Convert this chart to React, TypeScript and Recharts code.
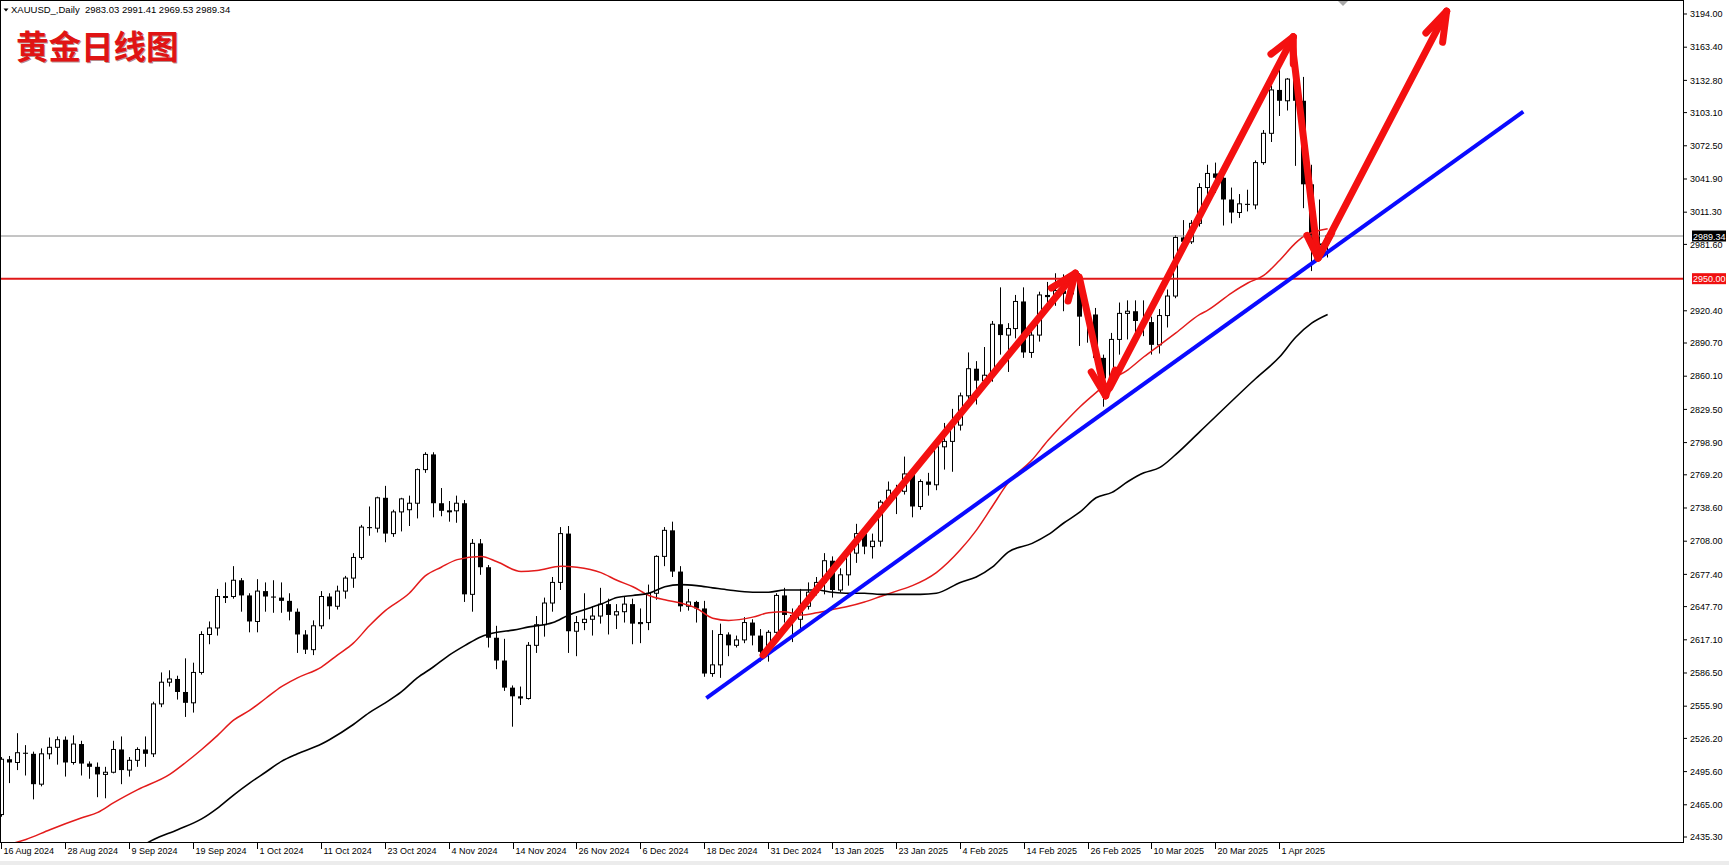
import { Bar, ComposedChart, Line, ReferenceLine, XAxis, YAxis } from "recharts"

const FONT = '"Liberation Sans", Arial, sans-serif'

// XAUUSD daily candles, bar 0 = 16 Aug 2024 ... bar 166 = 9 Apr 2025
const opens = [
  2456, 2507, 2504, 2513, 2512, 2484, 2512, 2518, 2525, 2504,
  2521, 2503, 2500, 2493, 2495, 2516, 2497, 2506, 2516, 2512,
  2558, 2578, 2581, 2569, 2559, 2587, 2622, 2628, 2657, 2657,
  2672, 2658, 2634, 2662, 2657, 2656, 2653, 2643, 2622, 2608,
  2630, 2657, 2648, 2662, 2674, 2693, 2721, 2720, 2748, 2715,
  2735, 2737, 2743, 2774, 2788, 2743, 2736, 2736, 2743, 2659,
  2706, 2684, 2619, 2598, 2573, 2565, 2563, 2612, 2631, 2651,
  2670, 2715, 2625, 2633, 2636, 2639, 2650, 2640, 2643, 2650,
  2632, 2633, 2660, 2694, 2718, 2680, 2648, 2652, 2646, 2586,
  2594, 2622, 2612, 2617, 2633, 2621, 2606, 2624, 2658, 2640,
  2636, 2648, 2661, 2670, 2690, 2663, 2677, 2697, 2715, 2703,
  2708, 2744, 2755, 2754, 2770, 2740, 2763, 2760, 2795, 2800,
  2815, 2842, 2867, 2856, 2861, 2908, 2898, 2904, 2929, 2882,
  2898, 2935, 2933, 2939, 2936, 2952, 2915, 2917, 2877, 2858,
  2894, 2918, 2920, 2911, 2910, 2889, 2916, 2934, 2988, 2984,
  3001, 3034, 3047, 3043, 3023, 3011, 3019, 3018, 3057, 3084,
  3124, 3114, 3134, 3114, 3037, 2982, 2983.03,
]
const highs = [
  2509, 2510, 2531, 2520, 2514, 2517, 2527, 2528, 2528, 2529,
  2524, 2505, 2504, 2500, 2524, 2528, 2509, 2518, 2528, 2560,
  2587, 2589, 2584, 2600, 2596, 2625, 2634, 2664, 2670, 2685,
  2674, 2660, 2673, 2670, 2672, 2670, 2660, 2646, 2626, 2635,
  2662, 2660, 2667, 2676, 2697, 2723, 2740, 2749, 2759, 2737,
  2748, 2750, 2775, 2790, 2790, 2757, 2745, 2750, 2746, 2710,
  2710, 2686, 2630, 2618, 2575, 2574, 2615, 2639, 2656, 2675,
  2721, 2722, 2639, 2660, 2648, 2665, 2655, 2650, 2657, 2655,
  2646, 2668, 2695, 2721, 2726, 2685, 2664, 2653, 2653, 2626,
  2632, 2624, 2621, 2638, 2636, 2627, 2626, 2660, 2665, 2646,
  2664, 2670, 2675, 2697, 2694, 2683, 2700, 2724, 2719, 2715,
  2746, 2763, 2760, 2786, 2772, 2765, 2771, 2800, 2817, 2830,
  2845, 2882, 2874, 2887, 2911, 2942, 2909, 2935, 2942, 2904,
  2938, 2947, 2955, 2954, 2956, 2955, 2930, 2923, 2880, 2900,
  2928, 2930, 2930, 2930, 2915, 2922, 2940, 2990, 3004, 3004,
  3038, 3055, 3057, 3047, 3034, 3028, 3032, 3059, 3087, 3128,
  3149, 3135, 3168, 3136, 3055, 3023, 2991.41,
]
const lows = [
  2454, 2485, 2497, 2492, 2470, 2482, 2507, 2502, 2491, 2502,
  2492, 2489, 2472, 2471, 2494, 2484, 2491, 2500, 2500, 2509,
  2555, 2574, 2562, 2546, 2550, 2585, 2613, 2621, 2651, 2655,
  2643, 2624, 2624, 2643, 2642, 2642, 2635, 2605, 2604, 2603,
  2627, 2636, 2645, 2655, 2665, 2691, 2713, 2716, 2707, 2712,
  2717, 2722, 2729, 2771, 2730, 2731, 2726, 2725, 2652, 2643,
  2677, 2610, 2590, 2570, 2537, 2557, 2562, 2605, 2620, 2643,
  2663, 2605, 2602, 2626, 2621, 2632, 2622, 2627, 2633, 2613,
  2614, 2626, 2654, 2685, 2675, 2643, 2644, 2633, 2583, 2583,
  2582, 2602, 2610, 2614, 2612, 2597, 2597, 2620, 2633, 2615,
  2626, 2645, 2658, 2659, 2656, 2661, 2667, 2688, 2696, 2692,
  2703, 2741, 2733, 2751, 2730, 2737, 2750, 2755, 2774, 2772,
  2810, 2835, 2834, 2853, 2855, 2880, 2864, 2895, 2877, 2877,
  2892, 2920, 2925, 2920, 2935, 2888, 2891, 2874, 2832, 2856,
  2880, 2894, 2895, 2897, 2880, 2881, 2905, 2932, 2976, 2982,
  2998, 3023, 3029, 2999, 3001, 3006, 3012, 3014, 3055, 3076,
  3100, 3105, 3054, 3015, 2957, 2970, 2969.53,
]
const closes = [
  2507, 2504, 2513, 2512, 2484, 2512, 2518, 2525, 2504, 2521,
  2503, 2500, 2493, 2495, 2516, 2497, 2506, 2516, 2512, 2558,
  2578, 2581, 2569, 2559, 2587, 2622, 2628, 2657, 2657, 2672,
  2658, 2634, 2662, 2657, 2656, 2653, 2643, 2622, 2608, 2630,
  2657, 2648, 2662, 2674, 2693, 2721, 2720, 2748, 2715, 2735,
  2747, 2743, 2774, 2788, 2743, 2736, 2736, 2743, 2659, 2706,
  2684, 2619, 2598, 2573, 2565, 2563, 2612, 2631, 2651, 2670,
  2715, 2625, 2633, 2636, 2639, 2650, 2640, 2643, 2650, 2632,
  2633, 2660, 2694, 2718, 2680, 2648, 2652, 2646, 2586, 2594,
  2622, 2612, 2617, 2633, 2621, 2606, 2624, 2658, 2640, 2636,
  2648, 2661, 2670, 2690, 2663, 2677, 2697, 2715, 2703, 2708,
  2744, 2755, 2754, 2770, 2740, 2763, 2760, 2795, 2800, 2815,
  2842, 2867, 2856, 2861, 2908, 2898, 2904, 2929, 2882, 2898,
  2935, 2933, 2939, 2936, 2952, 2915, 2917, 2877, 2858, 2894,
  2918, 2920, 2911, 2910, 2889, 2916, 2934, 2988, 2984, 3001,
  3034, 3047, 3043, 3023, 3011, 3019, 3018, 3057, 3084, 3124,
  3114, 3134, 3114, 3037, 2982, 2982, 2989.34,
]

// moving averages: [bar, price]
const maRed = [
  [0, 2427], [3, 2433], [6, 2442], [10, 2453], [12, 2458], [14, 2467], [17, 2479],
  [21, 2493], [23, 2504], [25, 2516], [27, 2529], [29, 2543], [31, 2552], [33, 2563],
  [35, 2574], [37, 2582], [40, 2592], [42, 2603], [44, 2614], [46, 2630], [48, 2644],
  [51, 2660], [53, 2676], [55, 2684], [57, 2691], [60, 2694], [62, 2689], [65, 2680],
  [67, 2681], [70, 2685], [72, 2684], [75, 2679], [77, 2672], [79, 2666], [81, 2658],
  [83, 2654], [85, 2651], [87, 2646], [89, 2637], [91, 2635], [94, 2638], [96, 2642],
  [98, 2643], [100, 2640], [102, 2642], [104, 2645], [106, 2648], [108, 2652],
  [110, 2657], [112, 2662], [114, 2667], [117, 2679], [120, 2700], [122, 2718],
  [124, 2740], [126, 2762], [129, 2783], [131, 2801], [133, 2817], [135, 2832],
  [137, 2845], [139, 2857], [141, 2866], [143, 2878], [145, 2889], [147, 2900],
  [150, 2917], [151, 2921], [154, 2937], [156, 2946], [158, 2953], [160, 2967],
  [162, 2983], [163, 2989], [166, 2996],
]
const maBlack = [
  [14, 2410], [19, 2433], [22, 2442], [25, 2452], [27, 2462], [29, 2474], [31, 2485],
  [33, 2495], [35, 2505], [37, 2512], [40, 2521], [41, 2525], [44, 2539], [46, 2550],
  [48, 2559], [50, 2569], [52, 2582], [54, 2592], [56, 2603], [58, 2612], [60, 2620],
  [62, 2624], [64, 2626], [66, 2629], [69, 2633], [71, 2640], [73, 2645], [75, 2650],
  [77, 2656], [79, 2658], [81, 2660], [83, 2666], [85, 2668], [87, 2667], [89, 2665],
  [91, 2663], [94, 2661], [96, 2661], [98, 2663], [100, 2663], [102, 2663], [104, 2661],
  [106, 2660], [108, 2660], [110, 2659], [112, 2659], [115, 2659], [117, 2660],
  [120, 2670], [122, 2675], [124, 2684], [126, 2698], [129, 2706], [131, 2714],
  [133, 2725], [135, 2735], [137, 2748], [139, 2753], [141, 2763], [143, 2771],
  [145, 2776], [147, 2788], [150, 2809], [157, 2858], [160, 2878], [162, 2896],
  [164, 2909], [166, 2917],
]

const tickLabels = [
  "16 Aug 2024", "28 Aug 2024", "9 Sep 2024", "19 Sep 2024", "1 Oct 2024", "11 Oct 2024",
  "23 Oct 2024", "4 Nov 2024", "14 Nov 2024", "26 Nov 2024", "6 Dec 2024", "18 Dec 2024",
  "31 Dec 2024", "13 Jan 2025", "23 Jan 2025", "4 Feb 2025", "14 Feb 2025", "26 Feb 2025",
  "10 Mar 2025", "20 Mar 2025", "1 Apr 2025",
]
const tickBars = tickLabels.map((_, k) => k * 8)

const priceTicks = [
  3194.0, 3163.4, 3132.8, 3103.1, 3072.5, 3041.9, 3011.3, 2981.6, 2920.4, 2890.7,
  2860.1, 2829.5, 2798.9, 2769.2, 2738.6, 2708.0, 2677.4, 2647.7, 2617.1, 2586.5,
  2555.9, 2526.2, 2495.6, 2465.0, 2435.3,
]

// drawn objects: [bar, price]
const trendLine = [[88.2, 2563.4], [190.5, 3104]]
const arrowShafts = [
  [[95.3, 2603], [134.4, 2955]],
  [[134.9, 2951.5], [138.2, 2842]],
  [[138.7, 2849], [161.7, 3173]],
  [[161.5, 3170], [164.8, 2969]],
  [[165.0, 2972], [180.9, 3196.5]],
]
const arrowHeads = [
  [[131.4, 2941.4], [134.4, 2955], [133.5, 2929.4]],
  [[136.4, 2864], [138.2, 2842], [139.4, 2865.8]],
  [[158.9, 3157], [161.7, 3173], [161.7, 3148]],
  [[163.4, 2990], [164.8, 2969], [166.5, 2992]],
  [[178.3, 3176.5], [180.9, 3196.5], [180.4, 3168]],
]

const SLOTS = 211

const rows = Array.from({ length: SLOTS }, (_, i) => {
  const r = maRed.find((p) => p[0] === i)
  const b = maBlack.find((p) => p[0] === i)
  const has = i < closes.length
  return {
    i,
    range: has ? [lows[i], highs[i]] : null,
    o: has ? opens[i] : null,
    h: has ? highs[i] : null,
    l: has ? lows[i] : null,
    c: has ? closes[i] : null,
    maR: r ? r[1] : null,
    maK: b ? b[1] : null,
  }
})

const Candle = (p: any) => {
  const d = p.payload ?? p
  if (d == null || d.o == null || !p.height) return <g />
  const top = Math.min(p.y, p.y + p.height)
  const hh = Math.abs(p.height)
  const k = hh / (d.h - d.l)
  const yAt = (v: number) => top + (d.h - v) * k
  const cx = Math.floor(p.x + p.width / 2)
  const bTop = yAt(Math.max(d.o, d.c))
  const bH = Math.max(1, yAt(Math.min(d.o, d.c)) - bTop)
  return (
    <g>
      <line x1={cx + 0.5} y1={top} x2={cx + 0.5} y2={top + hh} stroke="#000" strokeWidth={1} />
      {d.c >= d.o ? (
        <rect x={cx - 1.5} y={bTop} width={4} height={bH} fill="#fff" stroke="#000" strokeWidth={1} />
      ) : (
        <rect x={cx - 2} y={bTop} width={5} height={bH} fill="#000" />
      )}
    </g>
  )
}

const DateTick = ({ x, y, payload }: any) => {
  const lx = Math.floor(x) + 0.5
  const label = tickLabels[tickBars.indexOf(payload.value)]
  return (
    <g>
      <line x1={lx} y1={y} x2={lx} y2={y + 7} stroke="#000" />
      <text x={lx + 2} y={y + 12} fontSize={9} fontFamily={FONT} fill="#000">
        {label}
      </text>
    </g>
  )
}

const PriceTag = ({ viewBox, text, bg }: any) => {
  if (!viewBox) return null
  const x = viewBox.x + viewBox.width + 9
  const y = viewBox.y
  return (
    <g>
      <rect x={x} y={y - 5.5} width={34} height={11} fill={bg} />
      <text x={x + 1} y={y + 3.5} fontSize={9} fontFamily={FONT} fill="#fff">
        {text}
      </text>
    </g>
  )
}

const seg = (a: number[], b: number[]) => [
  { x: a[0], y: a[1] },
  { x: b[0], y: b[1] },
]

export default function App() {
  return (
    <div
      style={{
        position: "absolute",
        left: 0,
        top: 0,
        width: 1729,
        height: 865,
        overflow: "hidden",
        background: "#fff",
      }}
    >
      <div style={{ position: "absolute", left: -2, top: 0 }}>
        <ComposedChart width={1731} height={865} data={rows} margin={{ top: 0, right: 0, bottom: 0, left: 0 }}>
          <XAxis
            dataKey="i"
            type="category"
            ticks={tickBars}
            interval={0}
            height={23}
            axisLine={false}
            tickLine={false}
            tickSize={0}
            tickMargin={0}
            tick={(t: any) => <DateTick {...t} />}
          />
          <XAxis xAxisId="n" dataKey="i" type="number" domain={[-0.5, 210.5]} allowDataOverflow hide />
          <YAxis
            orientation="right"
            type="number"
            width={46}
            domain={[2430.7, 3206.9]}
            allowDataOverflow
            ticks={priceTicks}
            interval={0}
            tickFormatter={(v: number) => v.toFixed(2)}
            tickSize={4}
            tickMargin={3}
            axisLine={false}
            tickLine={{ stroke: "#000" }}
            tick={{ fontSize: 9, fill: "#000", fontFamily: FONT }}
          />
          <Bar dataKey="range" shape={(p: any) => <Candle {...p} />} isAnimationActive={false} />
          <Line
            dataKey="maR"
            type="monotone"
            stroke="#e31b1b"
            strokeWidth={1.5}
            dot={false}
            activeDot={false}
            connectNulls
            isAnimationActive={false}
          />
          <Line
            dataKey="maK"
            type="monotone"
            stroke="#000"
            strokeWidth={1.6}
            dot={false}
            activeDot={false}
            connectNulls
            isAnimationActive={false}
          />
          <ReferenceLine
            y={2989.34}
            stroke="#8a8a8a"
            strokeWidth={1}
            label={(p: any) => <PriceTag viewBox={p.viewBox} text="2989.34" bg="#000" />}
          />
          <ReferenceLine
            y={2950}
            stroke="#e01818"
            strokeWidth={2}
            label={(p: any) => <PriceTag viewBox={p.viewBox} text="2950.00" bg="#f01010" />}
          />
          <ReferenceLine
            xAxisId="n"
            segment={seg(trendLine[0], trendLine[1])}
            stroke="#0a0aff"
            strokeWidth={4}
            ifOverflow="visible"
          />
          {arrowShafts.map((s, k) => (
            <ReferenceLine
              key={`shaft-${k}`}
              xAxisId="n"
              segment={seg(s[0], s[1])}
              stroke="#f41010"
              strokeWidth={7}
              strokeLinecap="round"
              ifOverflow="visible"
            />
          ))}
          {arrowHeads.map((h, k) => [
            <ReferenceLine
              key={`wa-${k}`}
              xAxisId="n"
              segment={seg(h[0], h[1])}
              stroke="#f41010"
              strokeWidth={7}
              strokeLinecap="round"
              ifOverflow="visible"
            />,
            <ReferenceLine
              key={`wb-${k}`}
              xAxisId="n"
              segment={seg(h[1], h[2])}
              stroke="#f41010"
              strokeWidth={7}
              strokeLinecap="round"
              ifOverflow="visible"
            />,
          ])}
        </ComposedChart>
      </div>

      {/* chart frame */}
      <div
        style={{
          position: "absolute",
          left: 0,
          top: 0,
          width: 1684,
          height: 843,
          border: "1px solid #000",
          boxSizing: "border-box",
          pointerEvents: "none",
        }}
      />
      <div style={{ position: "absolute", left: 0, top: 861, width: 1729, height: 4, background: "#ececec" }} />

      <svg style={{ position: "absolute", left: 0, top: 0 }} width={1729} height={16}>
        <polygon points="3.5,8.5 8.5,8.5 6,11.5" fill="#000" />
        <polygon points="1338,1 1348,1 1343,6" fill="#a8a8a8" />
      </svg>
      <div
        style={{
          position: "absolute",
          left: 11,
          top: 4,
          fontFamily: FONT,
          fontSize: 9.5,
          lineHeight: "12px",
          color: "#000",
          whiteSpace: "pre",
        }}
      >
        XAUUSD_,Daily  2983.03 2991.41 2969.53 2989.34
      </div>
      <div
        style={{
          position: "absolute",
          left: 16,
          top: 29,
          fontFamily: '"Noto Sans CJK SC", sans-serif',
          fontWeight: 700,
          fontSize: 32.5,
          lineHeight: "32.5px",
          color: "#e01414",
          textShadow: "1px 1px 0 rgba(90,0,0,0.45)",
          whiteSpace: "nowrap",
        }}
      >
        黄金日线图
      </div>
    </div>
  )
}
